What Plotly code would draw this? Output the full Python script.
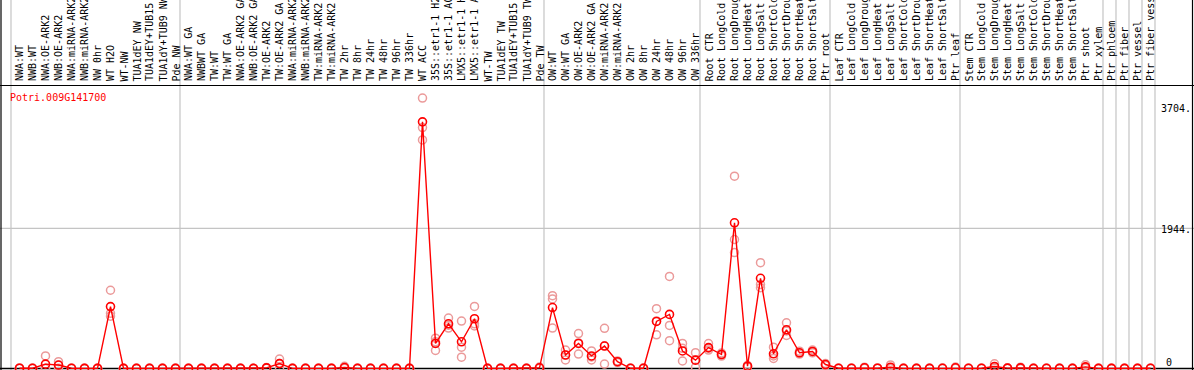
import plotly.graph_objects as go

gene = "Potri.009G141700"

categories = [
    "NWA:WT", "NWB:WT", "NWA:OE-ARK2", "NWB:OE-ARK2", "NWA:miRNA-ARK2", "NWB:miRNA-ARK2",
    "NW 0hr", "WT H2O", "WT-NW", "TUA1dEY NW", "TUA1dEY+TUB15", "TUA1dY+TUB9 NW", "Pde NW",
    "NWA:WT GA", "NWBWT GA", "TW:WT", "TW:WT GA", "NWA:OE-ARK2 GA", "NWB:OE-ARK2 GA",
    "TW:OE-ARK2", "TW:OE-ARK2 GA", "NWA:miRNA-ARK2", "NWB:miRNA-ARK2", "TW:miRNA-ARK2",
    "TW:miRNA-ARK2", "TW 2hr", "TW 8hr", "TW 24hr", "TW 48hr", "TW 96hr", "TW 336hr",
    "WT ACC", "35S::etr1-1 H2O", "35S::etr1-1 ACC", "LMX5::etr1-1 H2O", "LMX5::etr1-1 ACC",
    "WT-TW", "TUA1dEY TW", "TUA1dEY+TUB15", "TUA1dY+TUB9 TW", "Pde TW",
    "OW:WT", "OW:WT GA", "OW:OE-ARK2", "OW:OE-ARK2 GA", "OW:miRNA-ARK2", "OW:miRNA-ARK2",
    "OW 2hr", "OW 8hr", "OW 24hr", "OW 48hr", "OW 96hr", "OW 336hr",
    "Root CTR", "Root LongCold", "Root LongDrought", "Root LongHeat", "Root LongSalt",
    "Root ShortCold", "Root ShortDrought", "Root ShortHeat", "Root ShortSalt", "Ptr root",
    "Leaf CTR", "Leaf LongCold", "Leaf LongDrought", "Leaf LongHeat", "Leaf LongSalt",
    "Leaf ShortCold", "Leaf ShortDrought", "Leaf ShortHeat", "Leaf ShortSalt", "Ptr leaf",
    "Stem CTR", "Stem LongCold", "Stem LongDrought", "Stem LongHeat", "Stem LongSalt",
    "Stem ShortCold", "Stem ShortDrought", "Stem ShortHeat", "Stem ShortSalt", "Ptr shoot",
    "Ptr xylem",
    "Ptr phloem", "Ptr fiber", "Ptr vessel", "Ptr fiber vessel",
]

# group start indices (vertical separators)
group_starts = [0, 13, 41, 53, 63, 73, 84, 85, 86, 87, 88]

means = [
    4, 3, 60, 48, 3, 2, 2, 858, 2, 2, 2, 2, 2,
    2, 2, 2, 2, 2, 2, 8, 68, 2, 2, 2, 2, 13, 2, 2, 2, 2, 2,
    3420, 347, 620, 370, 690, 2, 2, 2, 2, 10,
    845, 187, 347, 174, 311, 94, 3, 3, 652, 750, 243, 116,
    290, 194, 2020, 32, 1251, 204, 537, 218, 236, 55,
    3, 3, 10, 4, 18, 2, 2, 2, 3, 10,
    3, 3, 28, 5, 8, 2, 3, 2, 2, 23, 2,
    2, 2, 2, 3,
]

rep1 = [
    6, 5, 175, 95, 5, 3, 3, 1085, 3, 3, 3, 3, 3,
    3, 3, 3, 3, 3, 3, 15, 130, 3, 3, 3, 3, 30, 3, 3, 3, 3, 3,
    3750, 420, 700, 657, 860, 3, 3, 3, 3, 20,
    1010, 256, 485, 243, 557, 105, 5, 8, 829, 1277, 347, 219,
    345, 215, 2666, 45, 1468, 296, 634, 240, 255, 68,
    5, 5, 18, 6, 50, 3, 3, 3, 6, 20,
    5, 5, 65, 9, 18, 3, 5, 3, 3, 51, 3,
    3, 3, 3, 5,
]
rep2 = [
    4, 3, 5, 45, 3, 2, 2, 765, 2, 2, 2, 2, 2,
    2, 2, 2, 2, 2, 2, 6, 70, 2, 2, 2, 2, 8, 2, 2, 2, 2, 2,
    3340, 370, 600, 296, 620, 2, 2, 2, 2, 8,
    965, 187, 355, 160, 315, 95, 3, 2, 660, 597, 280, 118,
    280, 195, 1787, 30, 1166, 175, 520, 215, 235, 55,
    3, 3, 8, 4, 4, 2, 2, 2, 3, 8,
    3, 3, 15, 4, 5, 2, 3, 2, 2, 15, 2,
    2, 2, 2, 3,
]
rep3 = [
    2, 1, 0, 5, 1, 1, 1, 725, 1, 1, 1, 1, 1,
    1, 1, 1, 1, 1, 1, 3, 5, 1, 1, 1, 1, 2, 1, 1, 1, 1, 1,
    3170, 250, 560, 157, 590, 1, 1, 1, 1, 3,
    560, 118, 200, 118, 62, 82, 1, 0, 467, 385, 104, 17,
    255, 172, 1607, 20, 1120, 140, 458, 200, 218, 42,
    1, 1, 4, 2, 0, 1, 1, 1, 1, 2,
    1, 1, 4, 2, 1, 1, 1, 1, 1, 3, 1,
    1, 1, 1, 1,
]

axis_labels = ["3704.", "1944.", "0"]
axis_values = [3704, 1944, 0]

W, H = 1194, 370
PX = 13.0           # pixels per category
X0 = 19.5           # pixel center of first category
Y0 = 368.5          # pixel of value 0
VPP = 1944 / 140.2  # value per pixel

xmin = -X0 / PX
xmax = xmin + W / PX
ymin = -(H - Y0) * VPP
ymax = ymin + H * VPP

def py(p):  # pixel y -> paper y
    return (H - p) / H

def px(p):
    return p / W

x = list(range(len(categories)))
font = "DejaVu Sans Mono, monospace"

fig = go.Figure()

rep_x = x + x + x
rep_y = rep1 + rep2 + rep3
fig.add_trace(go.Scatter(
    x=rep_x, y=rep_y, mode="markers",
    marker=dict(symbol="circle-open", size=8, color="#eb9a9a", line=dict(width=1.5, color="#eb9a9a")),
    hoverinfo="skip", showlegend=False,
))
fig.add_trace(go.Scatter(
    x=x, y=means, mode="lines+markers",
    line=dict(color="#ff0000", width=1.4),
    marker=dict(symbol="circle-open", size=8, color="#ff0000", line=dict(width=1.6, color="#ff0000")),
    text=categories, showlegend=False,
))

shapes = []
for g in group_starts:
    gx = g - 8.5 / PX
    shapes.append(dict(type="line", xref="x", yref="paper", x0=gx, x1=gx, y0=0, y1=1,
                       line=dict(color="#c4c4c4", width=1.2), layer="below"))
shapes.append(dict(type="line", xref="paper", yref="y", x0=0, x1=1, y0=1944, y1=1944,
                   line=dict(color="#c4c4c4", width=1.2), layer="below"))
# black frame lines
shapes.append(dict(type="line", xref="paper", yref="paper", x0=0, x1=1, y0=py(85.5), y1=py(85.5),
                   line=dict(color="black", width=1.2)))
shapes.append(dict(type="line", xref="paper", yref="y", x0=0, x1=1, y0=0, y1=0,
                   line=dict(color="black", width=1.5), layer="below"))
shapes.append(dict(type="line", xref="paper", yref="paper", x0=px(1), x1=px(1), y0=0, y1=1,
                   line=dict(color="black", width=1.2)))
shapes.append(dict(type="line", xref="paper", yref="paper", x0=px(1192.5), x1=px(1192.5), y0=0, y1=1,
                   line=dict(color="black", width=1.2)))

annotations = []
for i, c in enumerate(categories):
    annotations.append(dict(x=i, xref="x", y=py(83.5), yref="paper", text=c, textangle=-90,
                            showarrow=False, xanchor="center", yanchor="bottom",
                            font=dict(family=font, size=10, color="black")))
annotations.append(dict(x=px(8), xref="paper", y=py(97), yref="paper", text=gene,
                        showarrow=False, xanchor="left", yanchor="middle",
                        font=dict(family=font, size=10, color="#ff0000")))
label_pos = [(1159, 108), (1159, 229), (1164, 362)]
for t, v, (lx, ly) in zip(axis_labels, axis_values, label_pos):
    annotations.append(dict(x=px(lx), xref="paper", y=py(ly), yref="paper", text=t,
                            showarrow=False, xanchor="left", yanchor="middle",
                            font=dict(family=font, size=10, color="black")))

fig.update_layout(
    width=W, height=H, margin=dict(l=0, r=0, t=0, b=0),
    paper_bgcolor="white", plot_bgcolor="white",
    xaxis=dict(range=[xmin, xmax], visible=False, fixedrange=True),
    yaxis=dict(range=[ymin, ymax], visible=False, fixedrange=True),
    shapes=shapes, annotations=annotations, showlegend=False,
)

fig.write_html(
    "out.html",
    config={"displayModeBar": False},
    post_script="document.body.style.margin='0';document.body.style.overflow='hidden';",
)
